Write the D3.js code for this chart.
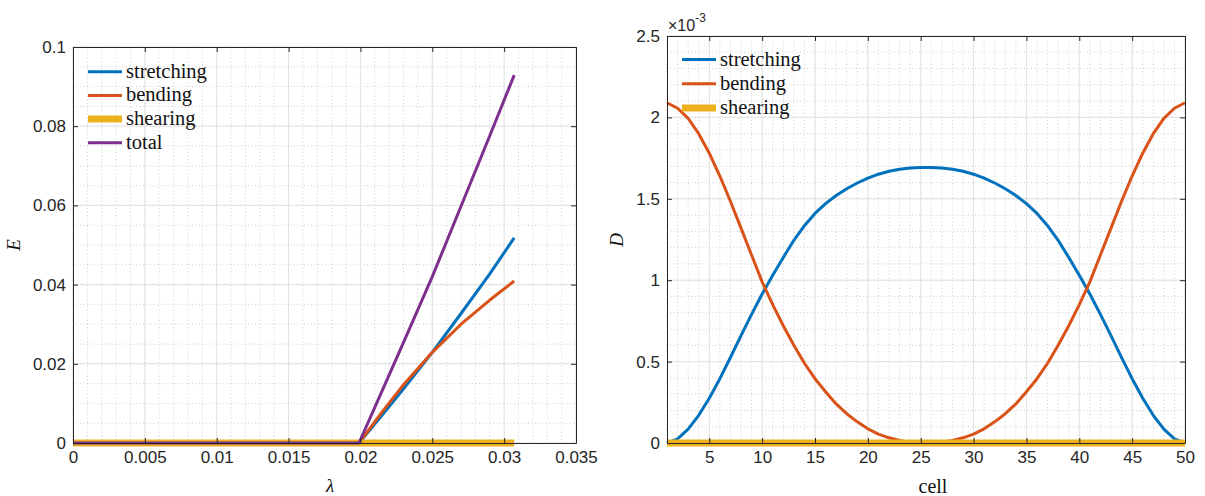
<!DOCTYPE html>
<html><head><meta charset="utf-8">
<script src="https://cdn.jsdelivr.net/npm/d3@7"></script>
<style>body{margin:0;background:#fff} svg{display:block}</style></head>
<body>
<svg id="c" width="1205" height="496"></svg>
<script>
// ---- Left panel data: energy E vs lambda ----
const lambda   = [0, 0.005, 0.01, 0.015, 0.0199, 0.0215, 0.023, 0.025, 0.027, 0.029, 0.0307];
const eStretch = [0, 0, 0, 0, 0, 0.0070, 0.0137, 0.0229, 0.0327, 0.0427, 0.0518];
const eBend    = [0, 0, 0, 0, 0, 0.0078, 0.0147, 0.0229, 0.0300, 0.0361, 0.0409];
const eShear   = [0, 0, 0, 0, 0, 0, 0, 0, 0, 0, 0];
const eTotal   = [0, 0, 0, 0, 0, 0.0131, 0.0254, 0.0420, 0.0598, 0.0776, 0.0929];
const leftXTicks = [0, 0.005, 0.01, 0.015, 0.02, 0.025, 0.03, 0.035];
const leftYTicks = [0, 0.02, 0.04, 0.06, 0.08, 0.1];

// ---- Right panel data: D (x1e-3) per cell ----
const cells = d3.range(1, 51);
const dStretch = [0, 0.025, 0.085, 0.17, 0.275, 0.395, 0.525, 0.66, 0.79, 0.915,
  1.03, 1.14, 1.245, 1.335, 1.41, 1.47, 1.52, 1.562, 1.597, 1.627,
  1.651, 1.669, 1.681, 1.689, 1.693, 1.693, 1.689, 1.681, 1.669, 1.651,
  1.627, 1.597, 1.562, 1.52, 1.47, 1.41, 1.335, 1.245, 1.14, 1.03,
  0.915, 0.79, 0.66, 0.525, 0.395, 0.275, 0.17, 0.085, 0.025, 0];
const dBend = [2.09, 2.056, 1.994, 1.90, 1.78, 1.64, 1.485, 1.32, 1.155, 0.99,
  0.85, 0.72, 0.60, 0.49, 0.395, 0.315, 0.24, 0.18, 0.13, 0.087,
  0.055, 0.032, 0.015, 0.005, 0, 0, 0.005, 0.015, 0.032, 0.055,
  0.087, 0.13, 0.18, 0.24, 0.315, 0.395, 0.49, 0.60, 0.72, 0.85,
  0.99, 1.155, 1.32, 1.485, 1.64, 1.78, 1.90, 1.994, 2.056, 2.09];
const dShear = [0,0,0,0,0,0,0,0,0,0, 0,0,0,0,0,0,0,0,0,0, 0,0,0,0,0,0,0,0,0,0,
  0,0,0,0,0,0,0,0,0,0, 0,0,0,0,0,0,0,0,0,0];
const rightXTicks = [5, 10, 15, 20, 25, 30, 35, 40, 45, 50];
const rightYTicks = [0, 0.5, 1, 1.5, 2, 2.5];

const leftNames  = ["stretching", "bending", "shearing", "total"];
const rightNames = ["stretching", "bending", "shearing"];
const colors = {stretching: "#0072BD", bending: "#D95319", shearing: "#EDB120", total: "#7E2F8E"};
const widths = {stretching: 3, bending: 3, shearing: 7, total: 3};

const svg = d3.select("#c");
const AX = "#262626";
const tickFont = "'Liberation Sans', Arial, Helvetica, sans-serif";
const serif = "'Liberation Serif', 'Times New Roman', serif";

function panel(o) {
  const x = d3.scaleLinear().domain(o.xd).range([o.x0, o.x1]);
  const y = d3.scaleLinear().domain(o.yd).range([o.y1, o.y0]);
  const g = svg.append("g");
  // minor grid
  const mg = g.append("g").attr("stroke", "#c4c4c4").attr("stroke-width", 0.8).attr("stroke-dasharray", "1,2.5");
  mg.selectAll(".mx").data(o.xMinor).join("line")
    .attr("x1", d => x(d)).attr("x2", d => x(d)).attr("y1", o.y0).attr("y2", o.y1);
  mg.selectAll(".my").data(o.yMinor).join("line")
    .attr("y1", d => y(d)).attr("y2", d => y(d)).attr("x1", o.x0).attr("x2", o.x1);
  // major grid
  const Mg = g.append("g").attr("stroke", "#e2e2e2").attr("stroke-width", 1);
  Mg.selectAll(".gx").data(o.xTicks).join("line")
    .attr("x1", d => x(d)).attr("x2", d => x(d)).attr("y1", o.y0).attr("y2", o.y1);
  Mg.selectAll(".gy").data(o.yTicks).join("line")
    .attr("y1", d => y(d)).attr("y2", d => y(d)).attr("x1", o.x0).attr("x2", o.x1);
  // series
  const line = d3.line().x(d => x(d[0])).y(d => y(d[1]));
  o.series.forEach(s => {
    g.append("path").datum(o.xs.map((v, i) => [v, s.values[i]]))
      .attr("d", line).attr("fill", "none")
      .attr("stroke", colors[s.name]).attr("stroke-width", widths[s.name])
      .attr("stroke-linejoin", "round");
  });
  // axes
  const fmt = o.fmt;
  const ax = (gen, tr) => {
    const a = g.append("g").attr("transform", tr).call(gen);
    a.select(".domain").attr("stroke", AX);
    a.selectAll(".tick line").attr("stroke", AX);
    a.selectAll("text").attr("fill", AX).style("font-family", tickFont).style("font-size", "17px");
    return a;
  };
  ax(d3.axisBottom(x).tickValues(o.xTicks).tickFormat(fmt).tickSizeInner(-5).tickSizeOuter(0).tickPadding(8), `translate(0,${o.y1})`);
  ax(d3.axisTop(x).tickValues(o.xTicks).tickFormat("").tickSizeInner(-5).tickSizeOuter(0), `translate(0,${o.y0})`);
  ax(d3.axisLeft(y).tickValues(o.yTicks).tickFormat(fmt).tickSizeInner(-5).tickSizeOuter(0).tickPadding(7), `translate(${o.x0},0)`);
  ax(d3.axisRight(y).tickValues(o.yTicks).tickFormat("").tickSizeInner(-5).tickSizeOuter(0), `translate(${o.x1},0)`);
  // legend
  const lg = g.append("g");
  o.series.forEach((s, i) => {
    const ly = o.legY + i * o.legDy;
    lg.append("line").attr("x1", o.legX).attr("x2", o.legX + 34).attr("y1", ly).attr("y2", ly)
      .attr("stroke", colors[s.name]).attr("stroke-width", widths[s.name]);
    lg.append("text").attr("x", o.legX + 38).attr("y", ly + 6).text(s.name)
      .attr("fill", "#111").style("font-family", serif).style("font-size", "20.5px");
  });
  return {x, y, g};
}

const L = panel({
  x0: 73, x1: 576, y0: 47, y1: 443,
  xd: [0, 0.035], yd: [0, 0.1],
  xTicks: leftXTicks, yTicks: leftYTicks,
  xMinor: d3.range(0, 36).map(i => i * 0.001), yMinor: d3.range(0, 21).map(i => i * 0.005),
  fmt: d3.format("~g"),
  xs: lambda,
  series: leftNames.map((n, i) => ({name: n, values: [eStretch, eBend, eShear, eTotal][i]})),
  legX: 88, legY: 71.7, legDy: 23.7
});

const R = panel({
  x0: 667, x1: 1185, y0: 36, y1: 443,
  xd: [1, 50], yd: [0, 2.5],
  xTicks: rightXTicks, yTicks: rightYTicks,
  xMinor: d3.range(1, 51), yMinor: d3.range(0, 26).map(i => i * 0.1),
  fmt: d3.format("~g"),
  xs: cells,
  series: rightNames.map((n, i) => ({name: n, values: [dStretch, dBend, dShear][i]})),
  legX: 682, legY: 59.5, legDy: 24.2
});

// axis labels
svg.append("text").attr("transform", "translate(20,245) rotate(-90)").attr("text-anchor", "middle")
  .style("font-family", serif).style("font-style", "italic").style("font-size", "19px").attr("fill", "#111").text("E");
svg.append("text").attr("x", 330).attr("y", 492).attr("text-anchor", "middle")
  .style("font-family", serif).style("font-style", "italic").style("font-size", "19px").attr("fill", "#111").text("λ");
svg.append("text").attr("transform", "translate(623,240) rotate(-90)").attr("text-anchor", "middle")
  .style("font-family", serif).style("font-style", "italic").style("font-size", "19px").attr("fill", "#111").text("D");
svg.append("text").attr("x", 933).attr("y", 493).attr("text-anchor", "middle")
  .style("font-family", serif).style("font-size", "20px").attr("fill", "#111").text("cell");
// exponent
const ex = svg.append("text").attr("x", 668).attr("y", 31).attr("fill", AX)
  .style("font-family", tickFont).style("font-size", "16px");
ex.append("tspan").text("×10");
ex.append("tspan").attr("dy", -9).style("font-size", "12px").text("-3");
</script>
</body></html>
